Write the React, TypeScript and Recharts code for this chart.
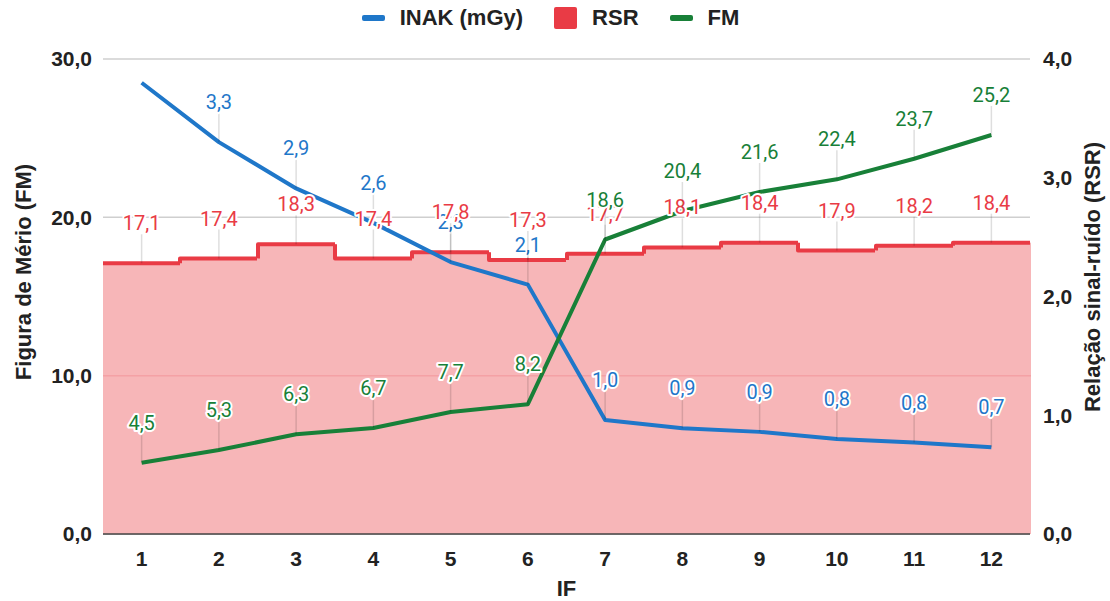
import {
  ComposedChart,
  Bar,
  Line,
  XAxis,
  YAxis,
  CartesianGrid,
  Legend,
  LabelList,
  Label,
} from "recharts";

document.body.style.margin = "0";

const IF_LABELS = ["1", "2", "3", "4", "5", "6", "7", "8", "9", "10", "11", "12"];
const INAK = [3.8, 3.3, 2.91, 2.62, 2.29, 2.1, 0.96, 0.89, 0.86, 0.8, 0.77, 0.73];
const RSR = [17.1, 17.4, 18.3, 17.4, 17.8, 17.3, 17.7, 18.1, 18.4, 17.9, 18.2, 18.4];
const FM = [4.5, 5.3, 6.3, 6.7, 7.7, 8.2, 18.6, 20.4, 21.6, 22.4, 23.7, 25.2];
const LEFT_TICKS = [0, 10, 20, 30];
const RIGHT_TICKS = [0, 1, 2, 3, 4];

const BLUE = "#1f77c9";
const RED = "#e93b45";
const PINK = "#f7b6b8";
const GREEN = "#188038";
const AXIS_FONT = "'Liberation Sans', Arial, sans-serif";
const LABEL_FONT = "Roboto, 'Noto Sans', sans-serif";

const data = IF_LABELS.map((name, i) => ({
  name,
  inak: INAK[i],
  rsr: RSR[i],
  fm: FM[i],
}));

const fmt = (v: number) => v.toFixed(1).replace(".", ",");

// stepped area: each band is a bar, top edge + connector to the previous step
function RsrStep(props: any) {
  const { x, y, width, height, index } = props;
  const base = y + height;
  const pxPerUnit = height / RSR[index];
  const prevY = index > 0 ? base - RSR[index - 1] * pxPerUnit : y;
  const x0 = Math.round(x);
  const x1 = Math.round(x + width);
  // gridlines that sit under the fill show through as a darker pink
  const grid = LEFT_TICKS.filter((t) => t > 0 && t < RSR[index]);
  return (
    <g>
      <rect x={x0} y={y} width={x1 - x0 + 1} height={height} fill={PINK} />
      {grid.map((t) => (
        <line
          key={t}
          x1={x0}
          x2={x1 + 1}
          y1={base - t * pxPerUnit}
          y2={base - t * pxPerUnit}
          stroke={RED}
          strokeOpacity={0.16}
          strokeWidth={1.5}
        />
      ))}
      <path
        d={`M${x0},${prevY}L${x0},${y}L${x1},${y}`}
        fill="none"
        stroke={RED}
        strokeWidth={4}
        strokeLinejoin="round"
      />
    </g>
  );
}

const makeLabel = (color: string, skipFirst = false) => (props: any) => {
  const { x, y, value, index } = props;
  if (skipFirst && index === 0) return null;
  return (
    <g>
      <line x1={x} x2={x} y1={y - 29} y2={y} stroke="#000" strokeOpacity={0.13} strokeWidth={1.5} />
      <text
        x={x}
        y={y - 33}
        textAnchor="middle"
        fill={color}
        stroke="#fff"
        strokeWidth={4}
        strokeLinejoin="round"
        paintOrder="stroke"
        style={{ fontFamily: LABEL_FONT, fontSize: 20 }}
      >
        {fmt(value)}
      </text>
    </g>
  );
};

function ChartLegend() {
  const items = [
    { name: "INAK (mGy)", color: BLUE, kind: "line" },
    { name: "RSR", color: RED, kind: "square" },
    { name: "FM", color: GREEN, kind: "line" },
  ];
  return (
    <div
      style={{
        height: 36,
        display: "flex",
        justifyContent: "center",
        alignItems: "center",
        gap: 31,
        paddingRight: 9,
        fontFamily: AXIS_FONT,
        fontWeight: "bold",
        fontSize: 22,
        color: "#222",
      }}
    >
      {items.map((it) => (
        <div key={it.name} style={{ display: "flex", alignItems: "center", gap: 15 }}>
          <span
            style={{
              display: "inline-block",
              width: 23,
              height: it.kind === "square" ? 22 : 6,
              background: it.color,
              borderRadius: 2,
            }}
          />
          <span>{it.name}</span>
        </div>
      ))}
    </div>
  );
}

const titleStyle = { fontFamily: AXIS_FONT, fontWeight: "bold" as const, fontSize: 22, fill: "#222" };
const tickStyle = { fontFamily: AXIS_FONT, fontWeight: "bold", fontSize: 21, fill: "#222" };

export default function App() {
  return (
    <div style={{ width: 1110, height: 601, background: "#fff" }}>
      <ComposedChart
        width={1110}
        height={601}
        data={data}
        barCategoryGap={0}
        margin={{ top: 23, right: 0, bottom: 0, left: 0 }}
      >
        <Legend
          verticalAlign="top"
          content={() => <ChartLegend />}
          wrapperStyle={{ top: 0, left: 0, width: 1110, height: 36 }}
        />
        <CartesianGrid yAxisId="left" vertical={false} stroke="#cfcfcf" strokeWidth={1.5} />
        <XAxis
          dataKey="name"
          height={67}
          tickSize={0}
          tickMargin={17}
          axisLine={{ stroke: "#444", strokeWidth: 1.5 }}
          tick={tickStyle}
        >
          <Label
            content={({ viewBox }: any) => (
              <text x={viewBox.x + viewBox.width / 2} y={596} textAnchor="middle" style={titleStyle}>
                IF
              </text>
            )}
          />
        </XAxis>
        <YAxis
          yAxisId="left"
          orientation="left"
          width={103}
          domain={[0, 30]}
          ticks={LEFT_TICKS}
          tickFormatter={fmt}
          tickSize={0}
          tickMargin={11}
          axisLine={false}
          tick={tickStyle}
        >
          <Label
            content={() => (
              <text
                transform="translate(23,272) rotate(-90)"
                textAnchor="middle"
                dominantBaseline="central"
                style={titleStyle}
              >
                Figura de Mério (FM)
              </text>
            )}
          />
        </YAxis>
        <YAxis
          yAxisId="right"
          orientation="right"
          width={80}
          domain={[0, 4]}
          ticks={RIGHT_TICKS}
          tickFormatter={fmt}
          tickSize={0}
          tickMargin={13}
          axisLine={false}
          tick={tickStyle}
        >
          <Label
            content={() => (
              <text
                transform="translate(1092,277) rotate(-90)"
                textAnchor="middle"
                dominantBaseline="central"
                style={titleStyle}
              >
                Relação sinal-ruído (RSR)
              </text>
            )}
          />
        </YAxis>

        <Bar yAxisId="left" dataKey="rsr" shape={RsrStep} isAnimationActive={false} />
        <Line
          yAxisId="right"
          type="linear"
          dataKey="inak"
          stroke={BLUE}
          strokeWidth={4}
          strokeLinejoin="round"
          dot={false}
          activeDot={false}
          isAnimationActive={false}
        />
        <Line
          yAxisId="left"
          type="linear"
          dataKey="fm"
          stroke={GREEN}
          strokeWidth={4}
          strokeLinejoin="round"
          dot={false}
          activeDot={false}
          isAnimationActive={false}
        />

        {/* label carriers, drawn last so text sits above every series */}
        <Line yAxisId="right" dataKey="inak" stroke="none" dot={false} activeDot={false} legendType="none" isAnimationActive={false}>
          <LabelList dataKey="inak" content={makeLabel(BLUE, true)} />
        </Line>
        <Line yAxisId="left" dataKey="rsr" stroke="none" dot={false} activeDot={false} legendType="none" isAnimationActive={false}>
          <LabelList dataKey="rsr" content={makeLabel(RED)} />
        </Line>
        <Line yAxisId="left" dataKey="fm" stroke="none" dot={false} activeDot={false} legendType="none" isAnimationActive={false}>
          <LabelList dataKey="fm" content={makeLabel(GREEN)} />
        </Line>
      </ComposedChart>
    </div>
  );
}
